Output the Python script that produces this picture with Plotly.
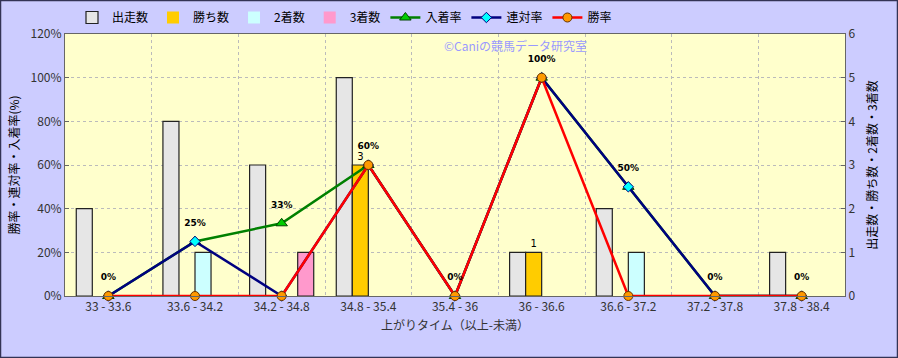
import plotly.graph_objects as go

categories = ["33 - 33.6", "33.6 - 34.2", "34.2 - 34.8", "34.8 - 35.4", "35.4 - 36",
              "36 - 36.6", "36.6 - 37.2", "37.2 - 37.8", "37.8 - 38.4"]
starts = [2, 4, 3, 5, 0, 1, 2, 0, 1]          # 出走数
wins = [0, 0, 0, 3, 0, 1, 0, 0, 0]            # 勝ち数
seconds = [0, 1, 0, 0, 0, 0, 1, 0, 0]         # 2着数
thirds = [0, 0, 1, 0, 0, 0, 0, 0, 0]          # 3着数
place_rate = [0, 25, 33.3, 60, 0, 100, 50, 0, 0]   # 入着率
quinella_rate = [0, 25, 0, 60, 0, 100, 50, 0, 0]   # 連対率
win_rate = [0, 0, 0, 60, 0, 100, 0, 0, 0]          # 勝率
place_labels = ["0%", "25%", "33%", "60%", "0%", "100%", "50%", "0%", "0%"]

FONT = "Noto Sans CJK JP"
W, H = 898, 358
L, R, T, B = 65, 53, 34, 62
pw, ph = W - L - R, H - T - B

def px_x(p):
    return (p - L) / pw

def px_y(p):
    return (H - B - p) / ph

fig = go.Figure()

bar_specs = [
    ("出走数", starts, "#E6E6E6"),
    ("勝ち数", wins, "#FFCC00"),
    ("2着数", seconds, "#CCFFFF"),
    ("3着数", thirds, "#FF99CC"),
]
for name, vals, col in bar_specs:
    txt = ["%d" % v if (name == "勝ち数" and v > 0) else "" for v in vals]
    fig.add_trace(go.Bar(
        x=categories, y=vals, name=name, yaxis="y",
        marker=dict(color=col, line=dict(color="#222222", width=[1.2 if v > 0 else 0 for v in vals])),
        text=txt, textposition="outside", cliponaxis=False,
        textfont=dict(family="DejaVu Sans", size=10, color="#000000"),
    ))

fig.add_trace(go.Scatter(
    x=categories, y=place_rate, name="入着率", yaxis="y2",
    mode="lines+markers",
    line=dict(color="#008000", width=2.5),
    marker=dict(symbol="triangle-up", size=10, color="#00CC00", line=dict(color="#004400", width=1)),
    cliponaxis=False,
))
fig.add_trace(go.Scatter(
    x=categories, y=quinella_rate, name="連対率", yaxis="y2",
    mode="lines+markers",
    line=dict(color="#000080", width=2.5),
    marker=dict(symbol="diamond", size=8, color="#00FFFF", line=dict(color="#000080", width=1)),
    cliponaxis=False,
))
fig.add_trace(go.Scatter(
    x=categories, y=win_rate, name="勝率", yaxis="y2",
    mode="lines+markers",
    line=dict(color="#FF0000", width=2.5),
    marker=dict(symbol="circle", size=9, color="#FF9900", line=dict(color="#663300", width=1)),
    cliponaxis=False,
))
# data labels for 入着率 (transparent larger marker just sets the label offset)
fig.add_trace(go.Scatter(
    x=categories, y=place_rate, yaxis="y2", showlegend=False, hoverinfo="skip",
    mode="markers+text", text=["<b>%s</b>" % t for t in place_labels],
    textposition="top center",
    textfont=dict(family="DejaVu Sans", size=9, color="#000000"),
    marker=dict(size=20, color="rgba(0,0,0,0)"),
    cliponaxis=False,
))

fig.update_layout(
    width=W, height=H,
    margin=dict(l=L, r=R, t=T, b=B, autoexpand=False),
    paper_bgcolor="#CCCCFF",
    plot_bgcolor="#FFFFCC",
    font=dict(family=FONT, size=12, color="#333333"),
    barmode="group", bargap=0.26, bargroupgap=0,
    showlegend=True,
    legend=dict(orientation="h", x=px_x(72), y=px_y(3), xanchor="left", yanchor="top",
                bgcolor="rgba(0,0,0,0)", font=dict(family=FONT, size=12, color="#000000"),
                tracegroupgap=0, traceorder="normal"),
    xaxis=dict(
        type="category", range=[-0.5, len(categories) - 0.5], tickson="boundaries",
        showgrid=True, automargin=False,
        gridcolor="#BBBBBB", griddash="dot", gridwidth=1,
        showline=True, linecolor="#666666", mirror=True,
        ticks="", tickfont=dict(family=FONT, size=12, color="#333333"),
        title=dict(text="上がりタイム（以上-未満）", font=dict(family=FONT, size=12, color="#333333"), standoff=8),
    ),
    yaxis=dict(
        side="right", range=[0, 6], dtick=1, showgrid=True, automargin=False,
        gridcolor="#BBBBBB", griddash="dot", gridwidth=1,
        showline=True, linecolor="#666666", zeroline=False,
        ticks="inside", ticklen=4, tickcolor="#666666",
        tickfont=dict(family=FONT, size=12, color="#333333"),
        title=dict(text="出走数・勝ち数・2着数・3着数", font=dict(family=FONT, size=12, color="#000000"), standoff=14),
    ),
    yaxis2=dict(
        side="left", overlaying="y", range=[0, 120], dtick=20, ticksuffix="%", automargin=False,
        showgrid=False, showline=True, linecolor="#666666", zeroline=False,
        ticks="inside", ticklen=4, tickcolor="#666666",
        tickfont=dict(family=FONT, size=12, color="#333333"),
        title=dict(text="勝率・連対率・入着率(%)", font=dict(family=FONT, size=12, color="#000000"), standoff=8),
    ),
    annotations=[dict(
        text="©Caniの競馬データ研究室", xref="paper", yref="paper",
        x=px_x(442), y=px_y(45), xanchor="left", yanchor="middle", showarrow=False,
        font=dict(family=FONT, size=12, color="#9999FF"),
    )],
    shapes=[dict(
        type="rect", xref="paper", yref="paper",
        x0=px_x(0.5), x1=px_x(W - 0.5), y0=px_y(H - 0.5), y1=px_y(0.5),
        line=dict(color="#333355", width=1.5), layer="above",
    )],
)

fig.write_html("out.html", config={"displayModeBar": False},
               post_script="document.body.style.margin='0';document.body.style.overflow='hidden';")
